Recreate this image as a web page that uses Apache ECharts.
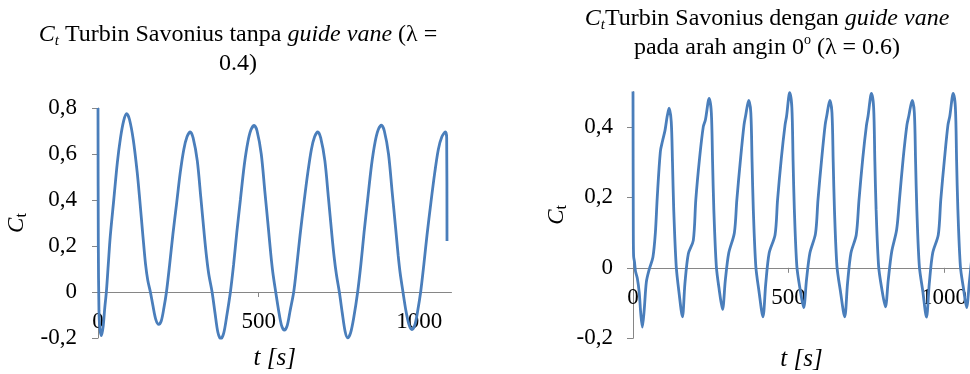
<!DOCTYPE html>
<html lang="id">
<head>
    <meta charset="UTF-8">
    <title>Ct Turbin Savonius</title>
    <script src="https://cdn.jsdelivr.net/npm/echarts@6.0.0/dist/echarts.min.js"></script>
    <style>
        html, body { margin: 0; padding: 0; background: #fff; }
    </style>
</head>
<body>
<div id="main" style="width: 970px;height:374px;"></div>
<script>
    // grafik kiri: tanpa guide vane (lambda = 0.4)
    var tLeft = [0, 1, 3, 6, 11, 16, 21, 26, 32, 38, 49, 60, 70, 80, 89, 98, 110, 122, 130, 140, 148, 155, 163, 171, 180, 189, 197, 205, 213,
        223, 233, 245, 256, 267, 277, 287, 296, 309, 320, 330, 338, 345, 355, 364, 373, 382, 391, 400, 412,
        422, 432, 443, 455, 466, 476, 486, 495, 508, 519, 530, 538, 544, 553, 562, 571, 580, 589, 598, 609,
        619, 629, 641, 653, 664, 674, 684, 693, 706, 717, 727, 735, 742, 751, 760, 769, 777, 786, 796, 808,
        818, 828, 839, 851, 862, 872, 882, 891, 904, 915, 926, 934, 940, 949, 958, 968, 977, 986, 995, 1004,
        1014, 1024, 1036, 1048, 1059, 1070, 1081, 1085, 1086];
    var ctLeft = [0.8, 0.2, -0.08, -0.16, -0.19, -0.15, -0.07, 0, 0.12, 0.24, 0.4, 0.56, 0.67, 0.745, 0.775, 0.75, 0.66, 0.52, 0.4, 0.24, 0.12, 0.05, 0, -0.06, -0.12, -0.141, -0.125, -0.07, 0,
        0.12, 0.25, 0.39, 0.52, 0.62, 0.675, 0.696, 0.67, 0.57, 0.41, 0.26, 0.15, 0.075, 0, -0.09, -0.175, -0.204, -0.18, -0.11, 0,
        0.12, 0.26, 0.4, 0.55, 0.65, 0.705, 0.724, 0.7, 0.6, 0.44, 0.28, 0.16, 0.085, 0, -0.08, -0.145, -0.166, -0.145, -0.08, 0,
        0.12, 0.25, 0.39, 0.52, 0.62, 0.675, 0.696, 0.67, 0.57, 0.41, 0.26, 0.15, 0.075, 0, -0.09, -0.172, -0.2, -0.178, -0.11, 0,
        0.12, 0.26, 0.4, 0.55, 0.65, 0.705, 0.725, 0.7, 0.6, 0.44, 0.28, 0.16, 0.085, 0, -0.08, -0.143, -0.163, -0.143, -0.08, 0,
        0.12, 0.25, 0.39, 0.52, 0.62, 0.675, 0.696, 0.67, 0.222];

    // grafik kanan: dengan guide vane, arah angin 0 (lambda = 0.6)
    var tRight = [0, 1, 2, 5, 8, 14, 20, 25, 30, 36, 43, 52, 64, 72, 78, 88, 95, 103, 110,
        116, 123, 127, 131, 139, 148, 159, 167, 178, 194, 202, 214, 226, 233,
        245, 252, 256, 260, 268, 277, 288, 297, 308, 326, 334, 346, 357, 362,
        372, 379, 383, 387, 395, 405, 418, 427, 438, 457, 465, 477, 489, 494,
        504, 511, 515, 519, 527, 537, 549, 558, 569, 587, 595, 607, 618, 623,
        633, 640, 644, 648, 656, 667, 681, 690, 701, 718, 727, 739, 751, 756,
        767, 774, 778, 782, 790, 800, 812, 821, 832, 848, 857, 869, 881, 887,
        898, 905, 909, 913, 921, 932, 944, 953, 964, 982, 990, 1002, 1013, 1019,
        1030, 1037, 1041, 1045, 1053, 1063, 1073, 1082, 1090];
    var ctRight = [0.5, 0.1, 0.033, 0.015, -0.01, -0.03, -0.07, -0.13, -0.168, -0.12, -0.04, -0.005, 0.03, 0.1, 0.2, 0.33, 0.36, 0.39, 0.43,
        0.453, 0.415, 0.3, 0.165, 0.005, -0.07, -0.139, -0.045, 0.04, 0.078, 0.193, 0.31, 0.4, 0.42,
        0.481, 0.44, 0.3, 0.165, 0.005, -0.06, -0.118, -0.035, 0.042, 0.099, 0.193, 0.31, 0.405, 0.43,
        0.475, 0.44, 0.3, 0.165, 0.005, -0.065, -0.139, -0.045, 0.042, 0.094, 0.193, 0.31, 0.405, 0.43,
        0.497, 0.455, 0.3, 0.165, 0.005, -0.058, -0.113, -0.035, 0.042, 0.097, 0.193, 0.31, 0.405, 0.43,
        0.475, 0.44, 0.3, 0.165, 0.005, -0.065, -0.139, -0.045, 0.042, 0.093, 0.193, 0.31, 0.405, 0.43,
        0.495, 0.455, 0.3, 0.165, 0.005, -0.058, -0.111, -0.035, 0.045, 0.108, 0.193, 0.31, 0.405, 0.43,
        0.475, 0.44, 0.3, 0.165, 0.005, -0.065, -0.14, -0.045, 0.042, 0.094, 0.193, 0.31, 0.405, 0.43,
        0.495, 0.455, 0.3, 0.165, 0.005, -0.058, -0.113, -0.04, 0.03];

    // label sumbu
    var xTicks = [0, 500, 1000];
    var yTicksLeft = [-0.2, 0, 0.2, 0.4, 0.6, 0.8];
    var yTicksRight = [-0.2, 0, 0.2, 0.4];

    var font = "'Liberation Serif', 'Times New Roman', serif";
    var gray = '#868686';
    var blue = '#4a7ebb';

    function pairs(t, c) {
        return t.map(function (x, i) { return [x, c[i]]; });
    }

    function koma(v) {
        return String(v).replace('.', ',');
    }

    var titleRich = {
        ci: {fontFamily: font, fontStyle: 'italic', fontSize: 24, lineHeight: 29, color: '#000'},
        sub: {fontFamily: font, fontStyle: 'italic', fontSize: 15, lineHeight: 16, verticalAlign: 'bottom', color: '#000'},
        i: {fontFamily: font, fontStyle: 'italic', fontSize: 24, lineHeight: 29, color: '#000'},
        sup: {fontFamily: font, fontSize: 14, lineHeight: 21, verticalAlign: 'top', color: '#000'}
    };

    function titleStyle() {
        return {fontFamily: font, fontSize: 24, lineHeight: 29, fontWeight: 'normal', color: '#000', rich: titleRich};
    }

    // label sumbu x ikut tepi bawah grid, jadi margin dihitung dari bawah
    function xAxisOf(idx, max, margin, gap) {
        return {
            gridIndex: idx, type: 'value', min: 0, max: max,
            name: 't [s]', nameLocation: 'middle', nameGap: gap,
            nameTextStyle: {fontFamily: font, fontStyle: 'italic', fontSize: 25, color: '#000'},
            axisLine: {onZero: true, lineStyle: {color: gray, width: 1}},
            axisTick: {show: true, length: 5, customValues: xTicks, lineStyle: {color: gray}},
            axisLabel: {customValues: xTicks, margin: margin, fontFamily: font, fontSize: 23, color: '#000',
                formatter: function (v) { return String(v); }},
            splitLine: {show: false}
        };
    }

    function yAxisOf(idx, min, max, ticks, gap, margin) {
        return {
            gridIndex: idx, type: 'value', min: min, max: max,
            name: '{c|C}{t|t}', nameLocation: 'middle', nameGap: gap,
            nameTextStyle: {
                rich: {
                    c: {fontFamily: font, fontStyle: 'italic', fontSize: 23, lineHeight: 26, color: '#000'},
                    t: {fontFamily: font, fontSize: 16, lineHeight: 16, verticalAlign: 'bottom', color: '#000'}
                }
            },
            axisLine: {show: true, lineStyle: {color: gray, width: 1}},
            axisTick: {show: true, length: 6, customValues: ticks, lineStyle: {color: gray}},
            axisLabel: {customValues: ticks, margin: margin, fontFamily: font, fontSize: 23, color: '#000', formatter: koma},
            splitLine: {show: false}
        };
    }

    var myChart = echarts.init(document.getElementById('main'));
    var option = {
        animation: false,
        backgroundColor: '#fff',
        title: [
            {
                text: '{ci|C}{sub|t} Turbin Savonius tanpa {i|guide vane} (λ =\n0.4)',
                left: 238, top: 20, textAlign: 'center', padding: 0,
                textStyle: titleStyle()
            },
            {
                text: '{ci|C}{sub|t}Turbin Savonius dengan {i|guide vane}\npada arah angin 0{sup|o} (λ = 0.6)',
                left: 767, top: 4, textAlign: 'center', padding: 0,
                textStyle: titleStyle()
            }
        ],
        grid: [
            {left: 98, top: 108, width: 353.5, height: 230, outerBoundsMode: 'none', containLabel: false},
            {left: 633, top: 91.6, width: 337, height: 246.7, outerBoundsMode: 'none', containLabel: false}
        ],
        xAxis: [xAxisOf(0, 1100, -28, 8), xAxisOf(1, 1084, -52, 9)],
        yAxis: [
            yAxisOf(0, -0.2, 0.8, yTicksLeft, 68, 21),
            yAxisOf(1, -0.2, 0.5, yTicksRight, 63, 20)
        ],
        series: [
            {
                type: 'line', xAxisIndex: 0, yAxisIndex: 0,
                data: pairs(tLeft, ctLeft),
                showSymbol: false, smooth: 0.3,
                lineStyle: {color: blue, width: 2.8}
            },
            {
                type: 'line', xAxisIndex: 1, yAxisIndex: 1,
                data: pairs(tRight, ctRight),
                showSymbol: false, smooth: 0.3,
                lineStyle: {color: blue, width: 2.8}
            }
        ]
    };
    myChart.setOption(option);
</script>
</body>
</html>
